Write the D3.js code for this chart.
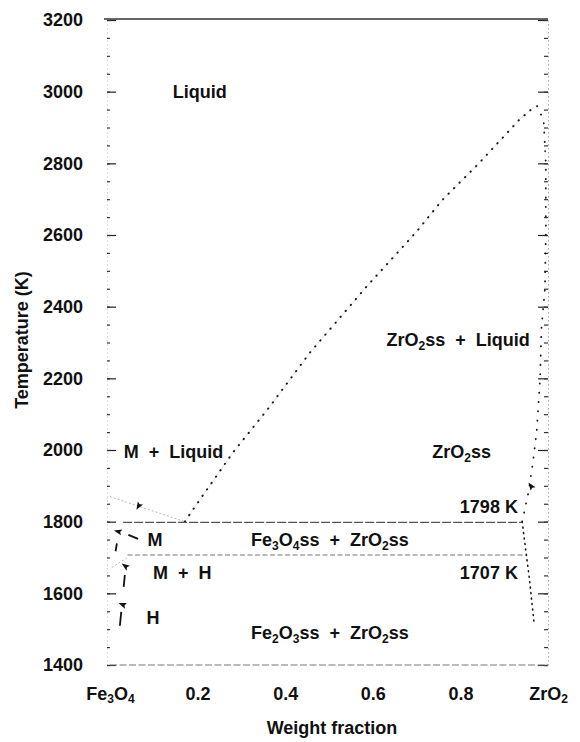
<!DOCTYPE html>
<html><head><meta charset="utf-8">
<script src="https://cdn.jsdelivr.net/npm/d3@7"></script>
<style>
body{margin:0;background:#fff}
svg text{font-family:"Liberation Sans",Arial,Helvetica,sans-serif;font-weight:bold;fill:#111;white-space:pre}
</style></head><body>
<svg id="c" width="580" height="742"></svg>
<script>
// ---------- data ----------
const xTickValues = [0, 0.2, 0.4, 0.6, 0.8, 1];
const xTickLabels = [[["Fe"],["3",1],["O"],["4",1]], [["0.2"]], [["0.4"]], [["0.6"]], [["0.8"]], [["ZrO"],["2",1]]];
const yMajorTicks = [1400, 1600, 1800, 2000, 2200, 2400, 2600, 2800, 3000, 3200];
const yMinorTicks = d3.range(1400, 3201, 50);

// liquidus of ZrO2ss (weight fraction, K)
const liquidus = [[0.171,1800],[0.189,1833],[0.28,1992],[0.364,2120],[0.456,2271],[0.585,2455],
  [0.699,2608],[0.759,2698],[0.843,2801],[0.934,2921],[0.968,2957]];
// solidus / solvus of ZrO2ss
const zro2Solidus = [[0.975,2960],[0.99,2920],[0.995,2800],[0.995,2600],[0.993,2450],[0.985,2340],
  [0.982,2200],[0.974,2050],[0.965,1960],[0.955,1880],[0.948,1840],[0.941,1800]];
const zro2Solvus = [[0.941,1800],[0.95,1713],[0.957,1646],[0.968,1520]];
// magnetite liquidus
const mLiquidus = [[0,1870],[0.171,1800]];
// invariant lines
const eutectic = [[0.03,1798],[0.941,1798]];
const eutectoid = [[0.04,1707],[0.95,1707]];
const eutectoidLeft = [[0.004,1672],[0.04,1700]];
// M / H boundaries
const mBoundary = [[0.021,1778],[0.011,1705]];
const hBoundary = [[0.037,1690],[0.021,1490]];
// experimental points (arrowheads) and direction of the tip (deg, 0 = up)
const markers = [
  {x:0.066, T:1845, a:210},
  {x:0.020, T:1772, a:-75},
  {x:0.036, T:1675, a:-55},
  {x:0.030, T:1568, a:-70},
  {x:0.962, T:1898, a:-35}
];
const leaderM = [[0.042,1763],[0.064,1752]];
// region labels: segments [text, subscript?], anchor point (fraction, K)
const regionLabels = [
  {segs:[["Liquid"]], x:0.205, T:3000},
  {segs:[["M  +  Liquid"]], x:0.145, T:1995},
  {segs:[["ZrO"],["2",1],["ss  +  Liquid"]], x:0.795, T:2307},
  {segs:[["ZrO"],["2",1],["ss"]], x:0.803, T:1995},
  {segs:[["1798 K"]], x:0.865, T:1841},
  {segs:[["1707 K"]], x:0.865, T:1657},
  {segs:[["Fe"],["3",1],["O"],["4",1],["ss  +  ZrO"],["2",1],["ss"]], x:0.502, T:1749},
  {segs:[["Fe"],["2",1],["O"],["3",1],["ss  +  ZrO"],["2",1],["ss"]], x:0.502, T:1489},
  {segs:[["M"]], x:0.103, T:1749},
  {segs:[["M  +  H"]], x:0.165, T:1657},
  {segs:[["H"]], x:0.098, T:1531}
];

// ---------- drawing ----------
const svg = d3.select("#c");
const x = d3.scaleLinear().domain([0, 1]).range([110, 548]);
const y = d3.scaleLinear().domain([1400, 3200]).range([665, 20]);
const line = d3.line().x(d => x(d[0])).y(d => y(d[1]));

function rich(sel, segs) {
  let shifted = false;
  segs.forEach(s => {
    const t = sel.append("tspan").text(s[0]);
    if (s[1]) { t.attr("font-size", 12).attr("dy", shifted ? 0 : 3.5); shifted = true; }
    else if (shifted) { t.attr("dy", -3.5); shifted = false; }
  });
}

// left axis (ticks inward)
const leftX = x(0) - 3;
const gL = svg.append("g").attr("transform", `translate(${leftX},0)`)
  .call(d3.axisLeft(y).tickValues(yMajorTicks).tickSizeInner(-9).tickSizeOuter(0).tickPadding(24).tickFormat(d3.format("d")));
gL.select(".domain").attr("stroke", "#bbb").attr("stroke-dasharray", "1,3");
gL.selectAll(".tick line").attr("stroke", "#222").attr("stroke-width", 1.2);
gL.selectAll(".tick text").attr("font-size", 18).attr("fill", "#111");
svg.append("g").attr("transform", `translate(${leftX},0)`)
  .call(d3.axisLeft(y).tickValues(yMinorTicks).tickSizeInner(-3).tickSizeOuter(0).tickFormat(""))
  .call(g => g.select(".domain").remove())
  .selectAll(".tick line").attr("stroke", "#333").attr("stroke-width", 1.2);

// right axis (ticks inward)
const rightX = x(1);
const gR = svg.append("g").attr("transform", `translate(${rightX},0)`)
  .call(d3.axisRight(y).tickValues(yMajorTicks).tickSizeInner(-10).tickSizeOuter(0).tickFormat(""));
gR.select(".domain").attr("stroke", "#aaa").attr("stroke-dasharray", "1.5,2.5");
gR.selectAll(".tick line").attr("stroke", "#222").attr("stroke-width", 1.2);
svg.append("g").attr("transform", `translate(${rightX},0)`)
  .call(d3.axisRight(y).tickValues(yMinorTicks).tickSizeInner(-4).tickSizeOuter(0).tickFormat(""))
  .call(g => g.select(".domain").remove())
  .selectAll(".tick line").attr("stroke", "#333").attr("stroke-width", 1.2);

// top frame line
const gT = svg.append("g").attr("transform", `translate(0,${y(3200) - 1})`)
  .call(d3.axisTop(x).tickValues([]).tickSizeOuter(0));
gT.select(".domain").attr("stroke", "#333").attr("stroke-width", 1.4)
  .attr("d", `M${leftX - 3},0H${x(1)}`);

// bottom axis
const gB = svg.append("g").attr("transform", `translate(0,${y(1400)})`)
  .call(d3.axisBottom(x).tickValues(xTickValues).tickSize(0).tickPadding(22));
gB.select(".domain").attr("stroke", "#777").attr("stroke-dasharray", "7,2.5")
  .attr("d", `M${x(0)},0H${x(1)}`);
gB.selectAll(".tick text").attr("font-size", 18).attr("fill", "#111").each(function(d, i) {
  const t = d3.select(this); t.text(""); rich(t, xTickLabels[i]);
});

// axis titles
svg.append("text").attr("transform", "translate(22,340) rotate(-90)")
  .attr("text-anchor", "middle").attr("dy", "0.35em").attr("font-size", 18).text("Temperature (K)");
svg.append("text").attr("x", 332).attr("y", 734)
  .attr("text-anchor", "middle").attr("font-size", 18).text("Weight fraction");

// phase boundaries
svg.append("path").datum(mLiquidus).attr("d", line).attr("fill", "none")
  .attr("stroke", "#bbb").attr("stroke-width", 1).attr("stroke-dasharray", "2,2");
svg.append("path").datum(liquidus).attr("d", line).attr("fill", "none")
  .attr("stroke", "#e2e2e2").attr("stroke-width", 0.8);
svg.append("path").datum(liquidus).attr("d", line).attr("fill", "none")
  .attr("stroke", "#1a1a1a").attr("stroke-width", 2).attr("stroke-linecap", "round")
  .attr("stroke-dasharray", "0.3,7.5");
svg.append("path").datum(zro2Solidus).attr("d", line).attr("fill", "none")
  .attr("stroke", "#1a1a1a").attr("stroke-width", 1.8).attr("stroke-linecap", "round")
  .attr("stroke-dasharray", "0.3,9");
svg.append("path").datum(zro2Solvus).attr("d", line).attr("fill", "none")
  .attr("stroke", "#1a1a1a").attr("stroke-width", 1.6).attr("stroke-linecap", "round")
  .attr("stroke-dasharray", "1,4.5");
svg.append("path").datum(eutectic).attr("d", line).attr("fill", "none")
  .attr("stroke", "#555").attr("stroke-width", 1.2).attr("stroke-dasharray", "9,2");
svg.append("path").datum(eutectoid).attr("d", line).attr("fill", "none")
  .attr("stroke", "#777").attr("stroke-width", 1.1).attr("stroke-dasharray", "5,2.5");
svg.append("path").datum(eutectoidLeft).attr("d", line).attr("fill", "none")
  .attr("stroke", "#bbb").attr("stroke-width", 1).attr("stroke-dasharray", "2,2");
svg.append("path").datum(mBoundary).attr("d", line).attr("fill", "none")
  .attr("stroke", "#111").attr("stroke-width", 1.8).attr("stroke-dasharray", "0,14,8,100");
svg.append("path").datum(hBoundary).attr("d", line).attr("fill", "none")
  .attr("stroke", "#111").attr("stroke-width", 1.8).attr("stroke-dasharray", "0,14,12,25,14,100");
svg.append("path").datum(leaderM).attr("d", line).attr("fill", "none")
  .attr("stroke", "#111").attr("stroke-width", 2);

// experimental points: narrow arrowheads, tip direction given by a
const arrowHead = "M0,-5L3,3L0,1.5L-3,3Z";
svg.selectAll("path.mk").data(markers).join("path").attr("class", "mk")
  .attr("d", arrowHead).attr("fill", "#111")
  .attr("transform", d => `translate(${x(d.x)},${y(d.T)}) rotate(${d.a})`);

// region labels
regionLabels.forEach(l => {
  const t = svg.append("text").attr("x", x(l.x)).attr("y", y(l.T)).attr("dy", "0.35em")
    .attr("text-anchor", "middle").attr("font-size", 18);
  rich(t, l.segs);
});
</script>
</body></html>
